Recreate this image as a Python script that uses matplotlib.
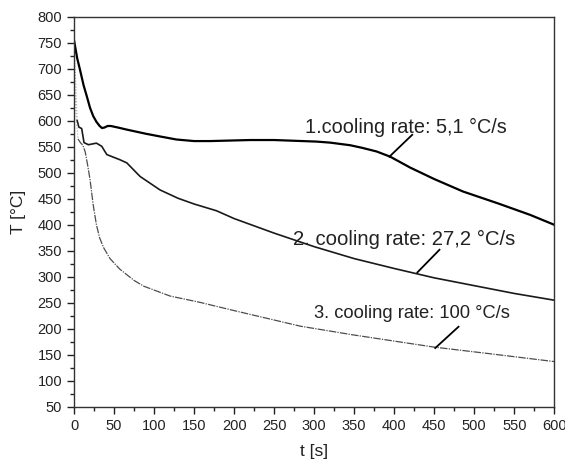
import numpy as np
import matplotlib
matplotlib.use("Agg")
import matplotlib.pyplot as plt
from matplotlib.ticker import MultipleLocator

plt.rcParams['font.family'] = ['Liberation Sans', 'DejaVu Sans']

# curve 1 : 5,1 C/s
t1 = [0, 4, 7.5, 12, 16, 20, 24, 28, 32, 35, 38, 42, 46, 55, 66, 90, 107, 128, 150, 170, 220, 250,
      303, 320, 345, 360, 378, 395, 420, 450, 486, 530, 570, 600]
T1 = [755, 720, 698, 668, 647, 625, 609, 598, 590, 586, 587, 590, 590, 587, 583, 575, 570, 564, 561, 561, 563, 563,
      560, 558, 553, 548, 541, 531, 510, 488, 464, 441, 419, 400]

# curve 2 : 27,2 C/s
t2 = [0, 2, 4, 6, 9.6, 12.5, 18, 28, 34.6, 41, 57.5, 66, 82.5, 95, 107.5, 130, 150, 178, 200, 250,
      300, 350, 400, 450, 500, 550, 600]
T2 = [745, 680, 600, 588, 585, 558, 554, 557, 551, 535, 525, 519, 493, 480, 467, 451, 440, 427, 412, 384,
      358, 335, 316, 298, 283, 268, 255]

# curve 3 : 100 C/s
t3 = [0, 1.5, 3, 5, 8, 11, 14, 17, 20, 24, 28, 32, 37, 45, 57, 75, 87, 120, 157, 200, 283, 350, 449, 520, 600]
T3 = [700, 650, 600, 565, 558, 553, 540, 515, 487, 438, 400, 375, 356, 335, 315, 293, 282, 263, 251, 235,
      205, 188, 165, 152, 137]

labels = ["1.cooling rate: 5,1 \u00b0C/s", "2. cooling rate: 27,2 \u00b0C/s", "3. cooling rate: 100 \u00b0C/s"]
label_xy = [(422.5, 573), (456.6, 352), (480.4, 204)]   # upper end of leader lines
line_xy = [(394, 531), (429, 308.5), (451.3, 163)]      # point on curve
text_xy = [(541, 588), (551, 371), (545, 230)]          # right end of labels
label_size = [14.3, 14.6, 13.2]

fig = plt.figure(figsize=(5.65, 4.66), dpi=100)
ax = fig.add_axes([0.131, 0.127, 0.850, 0.837])


def draw(t, T, split, lw, color, ls):
    t = np.array(t, float)
    T = np.array(T, float)
    k = (t <= split).sum()
    ax.plot(t[:k], T[:k], color='0.65', lw=0.8, ls=':')
    ax.plot(t[k - 1:], T[k - 1:], color=color, lw=lw, ls=ls)


ax.plot(t1, T1, color='black', lw=1.6)
draw(t2, T2, 4, 1.2, '0.1', '-')
draw(t3, T3, 5, 0.9, '0.3', (0, (6, 1, 1, 1)))

for lab, a, b, txy, fs in zip(labels, label_xy, line_xy, text_xy, label_size):
    ax.plot([a[0], b[0]], [a[1], b[1]], color='black', lw=1.3)
    ax.text(txy[0], txy[1], lab, ha='right', va='center', fontsize=fs, color='#222222')

ax.set_xlim(0, 600)
ax.set_ylim(50, 800)
ax.xaxis.set_major_locator(MultipleLocator(50))
ax.xaxis.set_minor_locator(MultipleLocator(25))
ax.yaxis.set_major_locator(MultipleLocator(50))
ax.yaxis.set_minor_locator(MultipleLocator(25))
ax.tick_params(which='both', direction='out', top=False, right=False, labelsize=10.5, colors='#222222')
ax.tick_params(which='major', length=5, width=1)
ax.tick_params(which='minor', length=3, width=1)
for s in ax.spines.values():
    s.set_linewidth(1.0)
    s.set_color('#333333')

ax.set_xlabel("t [s]", fontsize=12.5, color='#222222', labelpad=8)
ax.set_ylabel("T [\u00b0C]", fontsize=12.5, color='#222222', labelpad=8)

fig.savefig("out.png", dpi=100)
